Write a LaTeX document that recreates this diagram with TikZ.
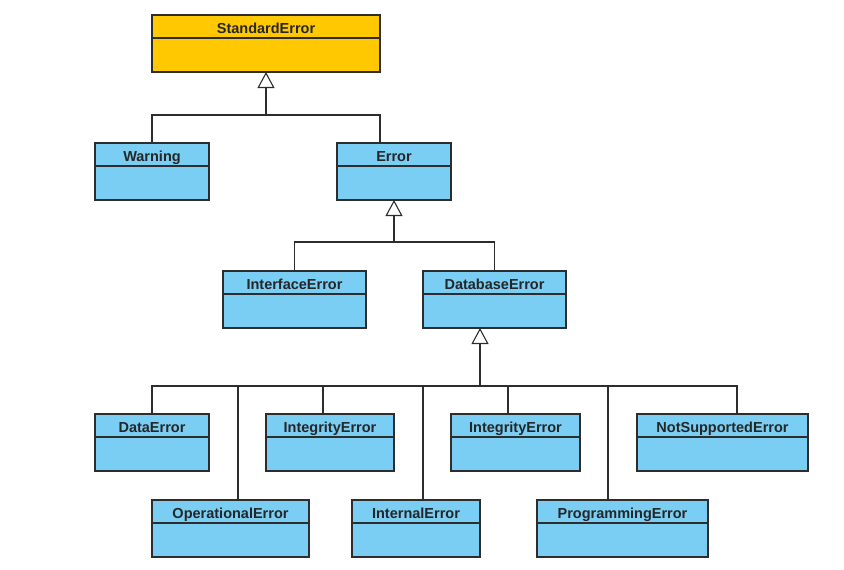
\documentclass[tikz,border=0pt]{standalone}
\usepackage{fontspec}
\setmainfont{Liberation Sans}
\usepackage{tikz}
\usetikzlibrary{positioning, arrows.meta}

\definecolor{clsblue}{RGB}{122,206,244}
\definecolor{clsyellow}{RGB}{255,200,0}
\definecolor{clsline}{RGB}{45,45,45}

\tikzset{
  clshead/.style={draw=clsline, line width=1.2pt, inner sep=0pt, outer sep=0pt,
    minimum height=23pt, anchor=north west, text=black!85,
    text height=13.5pt, text depth=0pt,
    font=\fontsize{14.5}{16}\selectfont\bfseries},
  clsbody/.style={draw=clsline, line width=1.2pt, inner sep=0pt, outer sep=0pt,
    minimum height=34pt},
  link/.style={draw=clsline, line width=1.1pt},
  inherit/.style={link, -{Triangle[open, length=16pt, width=17pt, line width=1.1pt]}}
}

% class box: name, x, y, width, fill, title
\newcommand{\umlclass}[6]{
  \node[clshead, fill=#5, minimum width=#4pt] (#1) at (#2,#3) {#6};
  \node[clsbody, fill=#5, minimum width=#4pt, below=0pt of #1] (#1b) {};
}

\begin{document}
\begin{tikzpicture}[x=1pt, y=-1pt]
    \useasboundingbox (0,0) rectangle (844,570);

    \umlclass{stderr}{152}{15}{228}{clsyellow}{StandardError}
    \umlclass{warn}{95}{143}{114}{clsblue}{Warning}
    \umlclass{err}{337}{143}{114}{clsblue}{Error}
    \umlclass{iface}{223}{271}{143}{clsblue}{InterfaceError}
    \umlclass{db}{423}{271}{143}{clsblue}{DatabaseError}
    \umlclass{data}{95}{414}{114}{clsblue}{DataError}
    \umlclass{intega}{266}{414}{128}{clsblue}{IntegrityError}
    \umlclass{integb}{451}{414}{129}{clsblue}{IntegrityError}
    \umlclass{notsup}{637}{414}{171}{clsblue}{NotSupportedError}
    \umlclass{op}{152}{500}{157}{clsblue}{OperationalError}
    \umlclass{inter}{352}{500}{128}{clsblue}{InternalError}
    \umlclass{prog}{537}{500}{171}{clsblue}{ProgrammingError}

    % junctions of the generalisation trees
    \coordinate (bus1) at (266,115);
    \coordinate (bus2) at (394,242);
    \coordinate (bus3) at (480,386);

    \draw[link] (warn.north) |- (bus1);
    \draw[link] ([xshift=-14pt]err.north) |- (bus1);
    \draw[inherit] (bus1) -- (stderrb.south);

    \draw[link] (iface.north) |- (bus2);
    \draw[link] (db.north) |- (bus2);
    \draw[inherit] (bus2) -- (errb.south);

    \foreach \n/\dx in {data/0, op/7.5, intega/-7, inter/7, integb/-7.5, prog/-14.5, notsup/14.5}
    {
    \draw[link] ([xshift=\dx pt]\n.north) |- (bus3);
    }
    \draw[inherit] (bus3) -- ([xshift=-14.5pt]dbb.south);
\end{tikzpicture}
\end{document}
